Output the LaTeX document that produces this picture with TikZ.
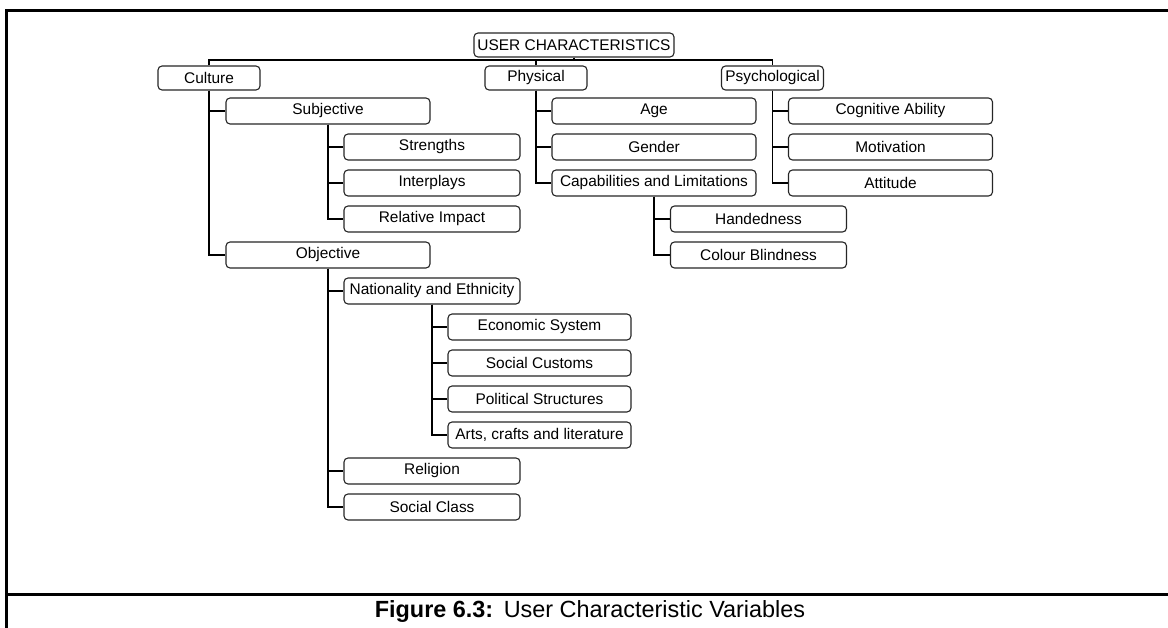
\documentclass[tikz,border=0pt]{standalone}
\usepackage{fontspec}
\setmainfont{Liberation Sans}
\begin{document}
\begin{tikzpicture}[x=1bp,y=-1bp,
  box/.style={draw=black!85, line width=1.1bp, rounded corners=4bp, fill=white,
    inner sep=0pt, minimum height=26bp, align=center,
    font=\fontsize{15.5}{18}\selectfont},
  topbox/.style={box, minimum height=24bp},
  wA/.style={minimum width=204bp},
  wB/.style={minimum width=176bp},
  wC/.style={minimum width=183bp},
  wL/.style={minimum width=102bp},
  conn/.style={line width=1.8bp, black},
  frame/.style={line width=3bp, black}]
\useasboundingbox (0,0) rectangle (1168,628);
% frame
\draw[frame] (6,628) -- (6,11) -- (1168,11);
\draw[frame] (6,594) -- (1168,594);
\node[font=\fontsize{23.5}{28}\selectfont, inner sep=0pt] (cap) at (590,611) {\textbf{Figure 6.3:}\hspace{0.45em}User Characteristic Variables};
% top
\node[topbox, minimum width=200bp] (user) at (574,45) {USER CHARACTERISTICS};
\node[topbox, wL] (cult) at (209,78) {Culture};
\node[topbox, wL] (phys) at (536,78) {Physical};
\node[topbox, wL] (psy) at (772.5,78) {Psychological};
\coordinate (bus) at (0,60);
% culture subtree
\node[box, wA] (subj) at (328,111) {Subjective};
\node[box, wB] (str) at (432,147) {Strengths};
\node[box, wB] (intp) at (432,183) {Interplays};
\node[box, wB] (rel) at (432,219) {Relative Impact};
\node[box, wA] (obj) at (328,255) {Objective};
\node[box, wB] (nat) at (432,291) {Nationality and Ethnicity};
\node[box, wC] (eco) at (539.5,327) {Economic System};
\node[box, wC] (soc) at (539.5,363) {Social Customs};
\node[box, wC] (pol) at (539.5,399) {Political Structures};
\node[box, wC] (arts) at (539.5,435) {Arts, crafts and literature};
\node[box, wB] (reli) at (432,471) {Religion};
\node[box, wB] (scls) at (432,507) {Social Class};
% physical subtree
\node[box, wA] (age) at (654,111) {Age};
\node[box, wA] (gen) at (654,147) {Gender};
\node[box, wA] (capl) at (654,183) {Capabilities and Limitations};
\node[box, wB] (hand) at (758.5,219) {Handedness};
\node[box, wB] (colb) at (758.5,255) {Colour Blindness};
% psychological subtree
\node[box, wA] (cog) at (890.5,111) {Cognitive Ability};
\node[box, wA] (mot) at (890.5,147) {Motivation};
\node[box, wA] (att) at (890.5,183) {Attitude};
% connectors
\draw[conn] (user.south) -- (user.south |- bus);
\draw[conn] (cult.north) -- (cult.north |- bus) -| (psy.north);
\draw[conn] (phys.north) -- (phys.north |- bus);
\draw[conn] (cult.south) |- (subj.west);
\draw[conn] (cult.south) |- (obj.west);
\draw[conn] (subj.south) |- (str.west);
\draw[conn] (subj.south) |- (intp.west);
\draw[conn] (subj.south) |- (rel.west);
\draw[conn] (obj.south) |- (nat.west);
\draw[conn] (obj.south) |- (reli.west);
\draw[conn] (obj.south) |- (scls.west);
\draw[conn] (nat.south) |- (eco.west);
\draw[conn] (nat.south) |- (soc.west);
\draw[conn] (nat.south) |- (pol.west);
\draw[conn] (nat.south) |- (arts.west);
\draw[conn] (phys.south) |- (age.west);
\draw[conn] (phys.south) |- (gen.west);
\draw[conn] (phys.south) |- (capl.west);
\draw[conn] (capl.south) |- (hand.west);
\draw[conn] (capl.south) |- (colb.west);
\draw[conn] (psy.south) |- (cog.west);
\draw[conn] (psy.south) |- (mot.west);
\draw[conn] (psy.south) |- (att.west);
\end{tikzpicture}
\end{document}
